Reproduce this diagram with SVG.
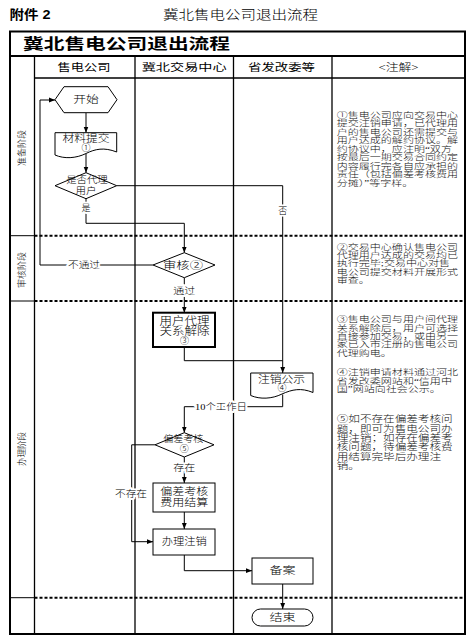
<svg xmlns="http://www.w3.org/2000/svg" width="471" height="642" viewBox="0 0 471 642">
<style>
.t{font-family:"Liberation Serif","Noto Sans CJK SC",serif;fill:#000;dominant-baseline:central;text-anchor:middle;font-weight:300;}
.n{font-family:"Liberation Serif","Noto Sans CJK SC",serif;fill:#111;dominant-baseline:central;text-anchor:start;font-size:8.5px;font-weight:300;}
.n5{font-size:9px;}
.lbl{paint-order:stroke;stroke:#fff;stroke-width:4px;stroke-linejoin:round;}
.frame{fill:none;stroke:#000;stroke-width:2;}
.grid{fill:none;stroke:#000;stroke-width:1.3;}
.dash{fill:none;stroke:#000;stroke-width:2;stroke-dasharray:3 2;}
.shape{fill:#fff;stroke:#000;stroke-width:1;}
.conn{fill:none;stroke:#000;stroke-width:1;}
</style>
<defs>
<marker id="arr" viewBox="0 0 10 10" refX="10" refY="5" markerWidth="6" markerHeight="6" markerUnits="userSpaceOnUse" orient="auto"><path d="M0,1 L10,5 L0,9 z" fill="#000"/></marker>
</defs>
<rect x="0" y="0" width="471" height="642" fill="#fff"/>

<g id="page-header">
<text x="30" y="14" class="t" style="font-family:'Liberation Sans','Noto Sans CJK SC',sans-serif;font-weight:bold;font-size:13px" textLength="41" lengthAdjust="spacingAndGlyphs">附件 2</text>
<text x="240.5" y="14" class="t" style="font-size:13px" textLength="155" lengthAdjust="spacingAndGlyphs">冀北售电公司退出流程</text>
</g>

<g id="table">
<rect x="10" y="31.5" width="455" height="602.5" class="frame"/>
<line x1="10" y1="56" x2="465" y2="56" class="frame"/>
<line x1="34.5" y1="78" x2="465" y2="78" class="grid"/>
<line x1="34.5" y1="56" x2="34.5" y2="634" class="grid"/>
<line x1="135" y1="56" x2="135" y2="634" class="grid"/>
<line x1="233.5" y1="56" x2="233.5" y2="634" class="grid"/>
<line x1="332" y1="56" x2="332" y2="634" class="grid"/>
<line x1="10" y1="235.7" x2="34.5" y2="235.7" class="conn"/>
<line x1="10" y1="301" x2="34.5" y2="301" class="conn"/>
<line x1="10" y1="597.7" x2="34.5" y2="597.7" class="conn"/>
<line x1="34.5" y1="235.7" x2="465" y2="235.7" class="dash"/>
<line x1="34.5" y1="301" x2="465" y2="301" class="dash"/>
<line x1="34.5" y1="597.7" x2="465" y2="597.7" class="dash"/>
<text x="126.5" y="43.5" class="t" style="font-size:15px;font-weight:bold" textLength="207" lengthAdjust="spacingAndGlyphs">冀北售电公司退出流程</text>
<text x="84" y="67" class="t" style="font-size:10px;font-weight:normal" textLength="53" lengthAdjust="spacingAndGlyphs">售电公司</text>
<text x="184.2" y="67" class="t" style="font-size:10px;font-weight:normal" textLength="85" lengthAdjust="spacingAndGlyphs">冀北交易中心</text>
<text x="281.5" y="67" class="t" style="font-size:10px;font-weight:normal" textLength="67" lengthAdjust="spacingAndGlyphs">省发改委等</text>
<text x="398.5" y="67" class="t" style="font-size:10px" textLength="40" lengthAdjust="spacingAndGlyphs">&lt;注解&gt;</text>
<text transform="translate(22,148) rotate(-90)" x="0" y="0" class="t" style="font-size:9.5px" textLength="36" lengthAdjust="spacingAndGlyphs">准备阶段</text>
<text transform="translate(22,270) rotate(-90)" x="0" y="0" class="t" style="font-size:9.5px" textLength="36" lengthAdjust="spacingAndGlyphs">审核阶段</text>
<text transform="translate(22,449) rotate(-90)" x="0" y="0" class="t" style="font-size:9.5px" textLength="34" lengthAdjust="spacingAndGlyphs">办理阶段</text>
</g>

<g id="connectors">
<polyline points="153,265 40,265 40,100 55,100" class="conn" marker-end="url(#arr)"/>
<line x1="86" y1="112.7" x2="86" y2="132.7" class="conn" marker-end="url(#arr)"/>
<line x1="86" y1="154" x2="86" y2="172.7" class="conn" marker-end="url(#arr)"/>
<polyline points="86,198.7 86,223.3 184.3,223.3 184.3,252.7" class="conn" marker-end="url(#arr)"/>
<polyline points="116.7,185.7 282.7,185.7 282.7,373" class="conn" marker-end="url(#arr)"/>
<line x1="184.3" y1="277.7" x2="184.3" y2="312.7" class="conn" marker-end="url(#arr)"/>
<polyline points="184.3,347 184.3,360.7 282.7,360.7" class="conn"/>
<polyline points="282.7,394.5 282.7,406.7 184.3,406.7 184.3,432.7" class="conn" marker-end="url(#arr)"/>
<line x1="184.3" y1="457" x2="184.3" y2="483" class="conn" marker-end="url(#arr)"/>
<polyline points="155,444.8 131.7,444.8 131.7,541.7 153,541.7" class="conn" marker-end="url(#arr)"/>
<line x1="184.3" y1="512" x2="184.3" y2="529" class="conn" marker-end="url(#arr)"/>
<polyline points="184.3,555 184.3,570.7 252,570.7" class="conn" marker-end="url(#arr)"/>
<line x1="282.7" y1="584" x2="282.7" y2="609" class="conn" marker-end="url(#arr)"/>
<text x="84" y="265" class="t lbl" style="font-size:9px" textLength="32" lengthAdjust="spacingAndGlyphs">不通过</text>
<text x="86" y="208" class="t lbl" style="font-size:9px">是</text>
<text x="282.7" y="210.7" class="t lbl" style="font-size:9px">否</text>
<text x="184.3" y="291" class="t lbl" style="font-size:9px" textLength="22" lengthAdjust="spacingAndGlyphs">通过</text>
<text x="221" y="406.7" class="t lbl" style="font-size:9px" textLength="52" lengthAdjust="spacingAndGlyphs">10个工作日</text>
<text x="184.3" y="468" class="t lbl" style="font-size:9px" textLength="22" lengthAdjust="spacingAndGlyphs">存在</text>
<text x="131" y="494" class="t lbl" style="font-size:9px" textLength="32" lengthAdjust="spacingAndGlyphs">不存在</text>
</g>

<g id="start">
<polygon points="55,99.7 64,86.7 108,86.7 117,99.7 108,112.7 64,112.7" class="shape"/>
<text x="86" y="99.7" class="t" style="font-size:10px" textLength="25.6" lengthAdjust="spacingAndGlyphs">开始</text>
</g>
<g id="submit">
<path d="M55,132.7 H116.7 V152 C104,147 95,149 86,153.5 C76,158.5 64,159 55,155 Z" class="shape"/>
<text x="86" y="138.5" class="t" style="font-size:10px" textLength="47" lengthAdjust="spacingAndGlyphs">材料提交</text>
<text x="86" y="147.5" class="t" style="font-size:9px">①</text>
</g>
<g id="agent-decision">
<polygon points="55,185.7 86,172.7 116.7,185.7 86,198.7" class="shape"/>
<text x="87" y="179.5" class="t" style="font-size:9.5px" textLength="41.6" lengthAdjust="spacingAndGlyphs">是否代理</text>
<text x="86" y="191" class="t" style="font-size:9.5px" textLength="21" lengthAdjust="spacingAndGlyphs">用户</text>
</g>
<g id="review">
<polygon points="153,265 184.3,252.7 215,265 184.3,277.7" class="shape"/>
<text x="183" y="265" class="t" style="font-size:10px" textLength="40" lengthAdjust="spacingAndGlyphs">审核②</text>
</g>
<g id="release">
<rect x="153" y="312.7" width="62" height="34.3" class="shape" style="stroke-width:2"/>
<text x="184.5" y="320.5" class="t" style="font-size:11px" textLength="50" lengthAdjust="spacingAndGlyphs">用户代理</text>
<text x="184.5" y="331" class="t" style="font-size:11px" textLength="50" lengthAdjust="spacingAndGlyphs">关系解除</text>
<text x="184.5" y="340.5" class="t" style="font-size:9px">③</text>
</g>
<g id="publicity">
<path d="M250.7,373 H313 V392.5 C301,387.5 292,389.5 282,394 C272,399 260,399.5 250.7,395.5 Z" class="shape"/>
<text x="281.5" y="379.3" class="t" style="font-size:10.5px" textLength="47" lengthAdjust="spacingAndGlyphs">注销公示</text>
<text x="282" y="388.3" class="t" style="font-size:9px">④</text>
</g>
<g id="deviation-decision">
<polygon points="155,444.8 184.3,432.7 214,444.8 184.3,457" class="shape"/>
<text x="183.3" y="439.3" class="t" style="font-size:9.5px" textLength="40" lengthAdjust="spacingAndGlyphs">偏差考核</text>
<text x="184.3" y="448.5" class="t" style="font-size:9px">⑤</text>
</g>
<g id="settlement">
<rect x="153" y="483" width="62" height="29" class="shape"/>
<text x="184.2" y="491.7" class="t" style="font-size:10.5px" textLength="48" lengthAdjust="spacingAndGlyphs">偏差考核</text>
<text x="184.2" y="502.7" class="t" style="font-size:10.5px" textLength="48" lengthAdjust="spacingAndGlyphs">费用结算</text>
</g>
<g id="cancel">
<rect x="153" y="529" width="62" height="26" class="shape"/>
<text x="184.2" y="541.7" class="t" style="font-size:10.5px" textLength="45" lengthAdjust="spacingAndGlyphs">办理注销</text>
</g>
<g id="record">
<rect x="252" y="558" width="61" height="26" class="shape"/>
<text x="282.5" y="570.7" class="t" style="font-size:10px" textLength="26" lengthAdjust="spacingAndGlyphs">备案</text>
</g>
<g id="end">
<rect x="252" y="609" width="61" height="17" rx="8.5" ry="8.5" class="shape"/>
<text x="282.5" y="617.5" class="t" style="font-size:10px" textLength="26" lengthAdjust="spacingAndGlyphs">结束</text>
</g>

<g id="notes">
<g transform="translate(336.7,0) scale(1.3,1)">
<text x="0" y="115" class="n">①售电公司应向交易中心</text>
<text x="0" y="123.45" class="n">提交注销申请，已代理用</text>
<text x="0" y="131.9" class="n">户的售电公司还需提交与</text>
<text x="0" y="140.35" class="n">用户达成的解约协议。解</text>
<text x="0" y="148.8" class="n">约协议中，应注明“双方</text>
<text x="0" y="157.25" class="n">按最后一期交易合同约定</text>
<text x="0" y="165.7" class="n">内容履行完各自应承担的</text>
<text x="0" y="174.15" class="n">责任（包括偏差考核费用</text>
<text x="0" y="182.6" class="n">分摊）”等字样。</text>

<text x="0" y="246.7" class="n">②交易中心确认售电公司</text>
<text x="0" y="255" class="n">代理用户达成的交易均已</text>
<text x="0" y="263.3" class="n">执行完毕;交易中心对售</text>
<text x="0" y="271.7" class="n">电公司提交材料开展形式</text>
<text x="0" y="280" class="n">审查。</text>

<text x="0" y="319.3" class="n">③售电公司与用户间代理</text>
<text x="0" y="327.7" class="n">关系解除后，用户可选择</text>
<text x="0" y="336" class="n">直接参加交易，或由另一</text>
<text x="0" y="344.3" class="n">家已入市注册的售电公司</text>
<text x="0" y="352.7" class="n">代理购电。</text>

<text x="0" y="372.3" class="n">④注销申请材料通过河北</text>
<text x="0" y="380.8" class="n">省发改委网站和“信用中</text>
<text x="0" y="389.3" class="n">国”网站向社会公示。</text>
</g>
<g transform="translate(336.7,0) scale(1.29,1)">
<text x="0" y="419.3" class="n n5">⑤如不存在偏差考核问</text>
<text x="0" y="428.6" class="n n5">题，即可为售电公司办</text>
<text x="0" y="437.9" class="n n5">理注销；如存在偏差考</text>
<text x="0" y="447.2" class="n n5">核问题，待偏差考核费</text>
<text x="0" y="456.5" class="n n5">用结算完毕后办理注</text>
<text x="0" y="465.8" class="n n5">销。</text>
</g>
</g>
</svg>
